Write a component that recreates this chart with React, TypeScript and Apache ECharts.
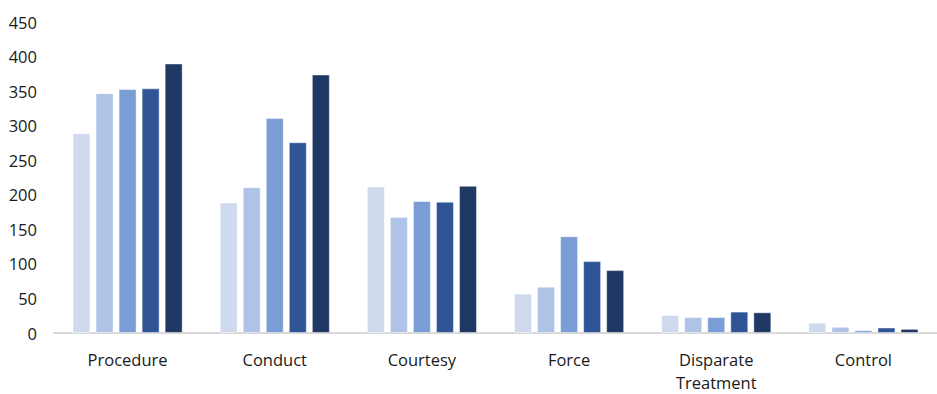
import React, { useEffect, useRef } from "react";
import * as echarts from "echarts";

// Allegation categories along the x axis
const categories = ["Procedure", "Conduct", "Courtesy", "Force", "Disparate\nTreatment", "Control"];

// Five consecutive periods, lightest to darkest
const seriesNames = ["Period 1", "Period 2", "Period 3", "Period 4", "Period 5"];
const period1 = [289, 189, 212, 57, 26, 15];
const period2 = [347, 211, 168, 67, 23, 9];
const period3 = [353, 311, 191, 140, 23, 4];
const period4 = [354, 276, 190, 104, 31, 8];
const period5 = [390, 374, 213, 91, 30, 6];
const seriesValues = [period1, period2, period3, period4, period5];

const palette = ["#CFDAEE", "#AEC3E6", "#7B9DD5", "#2F5597", "#203864"];

const yTicks = { min: 0, max: 450, interval: 50 };

export default function App() {
  const ref = useRef<HTMLDivElement>(null);

  useEffect(() => {
    document.body.style.margin = "0";
    document.body.style.overflow = "hidden";
    if (!ref.current) return;
    const chart = echarts.init(ref.current, undefined, { renderer: "svg" });
    const font = "'Open Sans', 'Noto Sans', sans-serif";
    chart.setOption({
      animation: false,
      textStyle: { fontFamily: font },
      // plot area runs slightly past the right edge of the visible page
      grid: { left: 54, top: 22, width: 892, height: 315.5, containLabel: false },
      xAxis: {
        type: "category",
        data: categories,
        axisLine: { show: true, lineStyle: { color: "#D9D9D9", width: 2 } },
        axisTick: { show: false },
        axisLabel: {
          color: "#1a1a1a",
          fontSize: 16.5,
          fontFamily: font,
          margin: 15,
          lineHeight: 23,
          interval: 0,
        },
      },
      yAxis: {
        type: "value",
        min: yTicks.min,
        max: yTicks.max,
        interval: yTicks.interval,
        axisLine: { show: false },
        axisTick: { show: false },
        splitLine: { show: false },
        axisLabel: { color: "#1a1a1a", fontSize: 16.5, fontFamily: font, margin: 17 },
      },
      series: seriesValues.map((vals, i) => ({
        name: seriesNames[i],
        type: "bar",
        data: vals,
        barWidth: 18,
        barGap: "28%",
        itemStyle: {
          color: palette[i],
          borderColor: "rgba(255,255,255,0.45)",
          borderWidth: 1,
        },
      })),
    });
    return () => chart.dispose();
  }, []);

  return (
    <div
      ref={ref}
      style={{
        position: "fixed",
        left: 0,
        top: 0,
        width: 937,
        height: 394,
        overflow: "hidden",
        background: "#fff",
      }}
    />
  );
}
